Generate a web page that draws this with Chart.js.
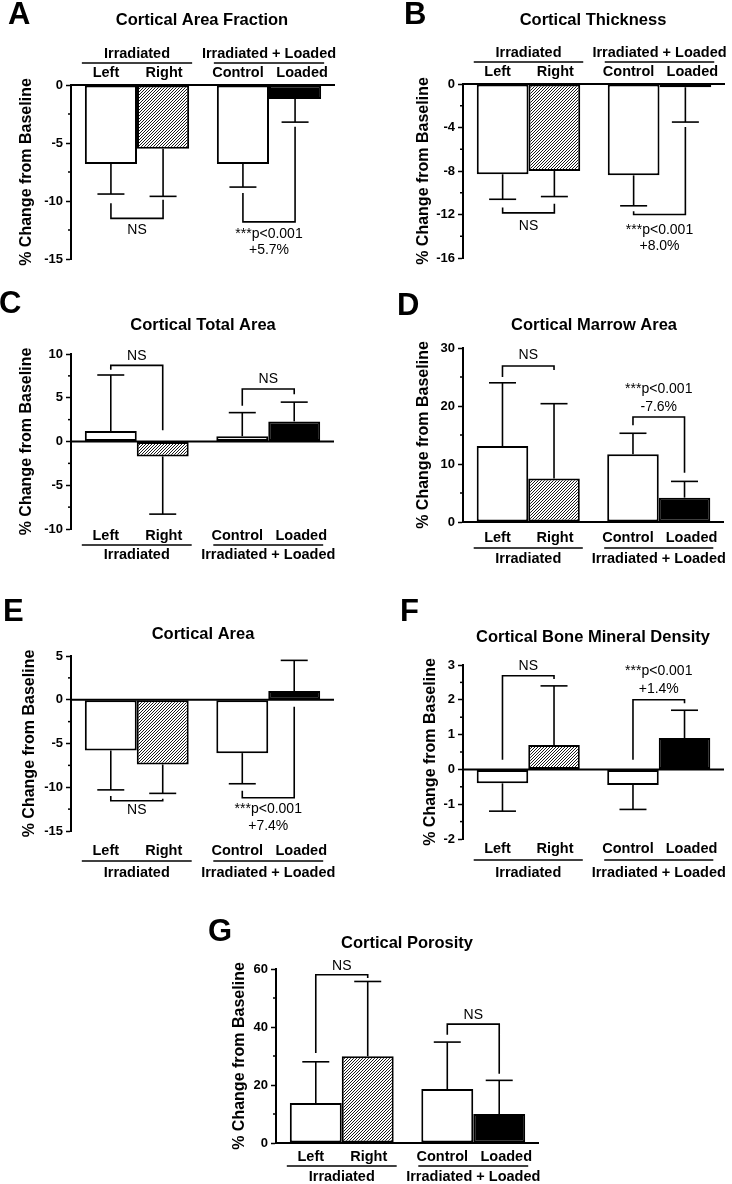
<!DOCTYPE html>
<html>
<head>
<meta charset="utf-8">
<script src="https://cdn.jsdelivr.net/npm/chart.js@4.4.1/dist/chart.umd.min.js"></script>
<style>
  body { margin: 0; background: #fff; width: 732px; height: 1184px; position: relative; overflow: hidden; }
  canvas { position: absolute; }
</style>
</head>
<body>
<script>
const FONT = "'Liberation Sans', Arial, Helvetica, sans-serif";

const categories = ['Left', 'Right', 'Control', 'Loaded'];
const groups = ['Irradiated', 'Irradiated + Loaded'];

// mean % change and one-sided error (SD) per bar: Left, Right, Control, Loaded
const areaFractionMean = [-6.8, -5.5, -6.8, -1.2];
const areaFractionErr = [2.6, 4.1, 2.0, 2.0];
const areaFractionTicks = [-15, -10, -5, 0];

const thicknessMean = [-8.3, -8.0, -8.4, -0.3];
const thicknessErr = [2.3, 2.35, 2.8, 3.2];
const thicknessTicks = [-16, -12, -8, -4, 0];

const totalAreaMean = [1.2, -1.7, 0.6, 2.3];
const totalAreaErr = [6.4, 6.6, 2.7, 2.2];
const totalAreaTicks = [-10, -5, 0, 5, 10];

const marrowMean = [13.1, 7.5, 11.7, 4.2];
const marrowErr = [10.9, 12.9, 3.6, 2.8];
const marrowTicks = [0, 10, 20, 30];

const corticalAreaMean = [-5.8, -7.4, -6.1, 1.0];
const corticalAreaErr = [4.5, 3.3, 3.5, 3.5];
const corticalAreaTicks = [-15, -10, -5, 0, 5];

const bmdMean = [-0.4, 0.7, -0.45, 0.9];
const bmdErr = [0.8, 1.7, 0.7, 0.8];
const bmdTicks = [-2, -1, 0, 1, 2, 3];

const porosityMean = [13.8, 29.9, 18.6, 10.0];
const porosityErr = [14.2, 25.8, 16.2, 11.6];
const porosityTicks = [0, 20, 40, 60];

// layout of each panel on the page
const panels = [
  { letter: 'A', title: 'Cortical Area Fraction', mean: areaFractionMean, err: areaFractionErr, ticks: areaFractionTicks,
    canvas: [0, 0, 366, 290], area: [71, 85, 335, 259], titlePad: 17,
    labelY: [73, 63, 54], letterPos: [8, 15], titlePos: [202, 20],
    brackets: [
      { a: 0, b: 1, y: -11.5, ya: -10.2, yb: -9.9, text: ['NS'], ty: [-12.5] },
      { a: 2, b: 3, y: -11.8, ya: -9.3, yb: -3.6, text: ['***p<0.001', '+5.7%'], ty: [-12.9, -14.2] }
    ] },
  { letter: 'B', title: 'Cortical Thickness', mean: thicknessMean, err: thicknessErr, ticks: thicknessTicks,
    canvas: [366, 0, 366, 290], area: [463, 84, 725, 258], titlePad: 48,
    labelY: [72, 62, 53], letterPos: [404, 15], titlePos: [593, 20],
    brackets: [
      { a: 0, b: 1, y: -11.85, ya: -11.35, yb: -11.0, text: ['NS'], ty: [-13.1] },
      { a: 2, b: 3, y: -12.0, ya: -11.7, yb: -3.95, text: ['***p<0.001', '+8.0%'], ty: [-13.4, -14.95] }
    ] },
  { letter: 'C', title: 'Cortical Total Area', mean: totalAreaMean, err: totalAreaErr, ticks: totalAreaTicks,
    canvas: [0, 290, 366, 290], area: [71, 354, 334, 529], titlePad: 17,
    labelY: [536, 545, 555], letterPos: [-1, 304], titlePos: [203, 325],
    brackets: [
      { a: 0, b: 1, y: 8.7, ya: 8.2, yb: 1.3, text: ['NS'], ty: [9.7] },
      { a: 2, b: 3, y: 6.0, ya: 4.1, yb: 5.4, text: ['NS'], ty: [7.1] }
    ] },
  { letter: 'D', title: 'Cortical Marrow Area', mean: marrowMean, err: marrowErr, ticks: marrowTicks,
    canvas: [366, 290, 366, 290], area: [463, 348, 724, 522], titlePad: 48,
    labelY: [538, 548, 559], letterPos: [397, 306], titlePos: [594, 325],
    brackets: [
      { a: 0, b: 1, y: 26.9, ya: 25.0, yb: 26.2, text: ['NS'], ty: [28.8] },
      { a: 2, b: 3, y: 18.1, ya: 16.7, yb: 8.5, text: ['***p<0.001', '-7.6%'], ty: [22.85, 19.75] }
    ] },
  { letter: 'E', title: 'Cortical Area', mean: corticalAreaMean, err: corticalAreaErr, ticks: corticalAreaTicks,
    canvas: [0, 580, 366, 300], area: [71, 656, 334, 831], titlePad: 20,
    labelY: [851, 861, 873], letterPos: [3, 612], titlePos: [203, 634],
    brackets: [
      { a: 0, b: 1, y: -11.55, ya: -11.0, yb: -11.3, text: ['NS'], ty: [-12.6] },
      { a: 2, b: 3, y: -11.2, ya: -10.4, yb: -0.8, text: ['***p<0.001', '+7.4%'], ty: [-12.55, -14.5] }
    ] },
  { letter: 'F', title: 'Cortical Bone Mineral Density', mean: bmdMean, err: bmdErr, ticks: bmdTicks,
    canvas: [366, 580, 366, 300], area: [463, 665, 724, 839], titlePad: 55,
    labelY: [849, 860, 873], letterPos: [400, 612], titlePos: [593, 637],
    brackets: [
      { a: 0, b: 1, y: 2.69, ya: 0.28, yb: 2.6, text: ['NS'], ty: [2.97] },
      { a: 2, b: 3, y: 2.0, ya: 0.28, yb: 1.9, text: ['***p<0.001', '+1.4%'], ty: [2.81, 2.3] }
    ] },
  { letter: 'G', title: 'Cortical Porosity', mean: porosityMean, err: porosityErr, ticks: porosityTicks,
    canvas: [190, 880, 366, 304], area: [276, 969, 539, 1143], titlePad: 40,
    labelY: [1157, 1166, 1177], letterPos: [208, 932], titlePos: [407, 943],
    brackets: [
      { a: 0, b: 1, y: 58.0, ya: 31.0, yb: 56.9, text: ['NS'], ty: [61.1] },
      { a: 2, b: 3, y: 41.0, ya: 37.3, yb: 23.9, text: ['NS'], ty: [44.25] }
    ] }
];

const labelShift = [-5, 1, -5, 7];

function makeHatch() {
  const c = document.createElement('canvas');
  c.width = 3; c.height = 3;
  const g = c.getContext('2d');
  g.fillStyle = '#fff';
  g.fillRect(0, 0, 3, 3);
  g.strokeStyle = '#000';
  g.lineWidth = 0.9;
  g.beginPath();
  g.moveTo(-1, 4); g.lineTo(4, -1);
  g.moveTo(-1, 1); g.lineTo(1, -1);
  g.moveTo(2, 4); g.lineTo(4, 2);
  g.stroke();
  return g.createPattern(c, 'repeat');
}

function line(ctx, x1, y1, x2, y2) {
  ctx.beginPath();
  ctx.moveTo(x1, y1);
  ctx.lineTo(x2, y2);
  ctx.stroke();
}

function label(ctx, s, x, y, font, align) {
  ctx.font = font;
  ctx.fillStyle = '#000';
  ctx.textAlign = align || 'center';
  ctx.textBaseline = 'middle';
  ctx.fillText(s, x, y);
}

function panelPlugin(p) {
  return {
    id: 'panel' + p.letter,
    afterDatasetsDraw(chart) {
      const ctx = chart.ctx;
      const ys = chart.scales.y;
      const xs = chart.scales.x;
      const ca = chart.chartArea;
      const ox = p.canvas[0], oy = p.canvas[1];
      const bars = [0, 1, 2, 3].map(i => chart.getDatasetMeta(i % 2).data[Math.floor(i / 2)]);

      ctx.save();
      ctx.strokeStyle = '#000';

      // minor ticks
      const step = p.ticks[1] - p.ticks[0];
      ctx.lineWidth = 1.5;
      for (let i = 0; i < p.ticks.length - 1; i++) {
        const y = ys.getPixelForValue(p.ticks[i] + step / 2);
        line(ctx, ca.left - 3, y, ca.left, y);
      }

      // zero line
      ctx.lineWidth = 2;
      const y0 = ys.getPixelForValue(0);
      line(ctx, ca.left, y0, ca.right, y0);

      // error bars (one-sided, away from zero)
      ctx.lineWidth = 1.6;
      bars.forEach((b, i) => {
        const v = p.mean[i];
        const end = v + Math.sign(v) * p.err[i];
        const ya = ys.getPixelForValue(v);
        const yb = ys.getPixelForValue(end);
        line(ctx, b.x, ya, b.x, yb);
        line(ctx, b.x - 13.5, yb, b.x + 13.5, yb);
      });

      // significance brackets
      p.brackets.forEach(br => {
        const xa = bars[br.a].x, xb = bars[br.b].x;
        const yl = ys.getPixelForValue(br.y);
        ctx.lineWidth = 1.6;
        ctx.beginPath();
        ctx.moveTo(xa, ys.getPixelForValue(br.ya));
        ctx.lineTo(xa, yl);
        ctx.lineTo(xb, yl);
        ctx.lineTo(xb, ys.getPixelForValue(br.yb));
        ctx.stroke();
        br.text.forEach((t, k) => {
          label(ctx, t, (xa + xb) / 2, ys.getPixelForValue(br.ty[k]), '14px ' + FONT);
        });
      });

      // category labels, group underlines, group names
      const boldLbl = 'bold 14.5px ' + FONT;
      bars.forEach((b, i) => {
        label(ctx, categories[i], b.x + labelShift[i], p.labelY[0] - oy, boldLbl);
      });
      ctx.lineWidth = 1.5;
      groups.forEach((g, j) => {
        const b1 = bars[j * 2], b2 = bars[j * 2 + 1];
        const yl = p.labelY[1] - oy;
        line(ctx, b1.x - b1.width / 2 - 3, yl, b2.x + b2.width / 2 + 3, yl);
        label(ctx, g, xs.getPixelForValue(j), p.labelY[2] - oy, boldLbl);
      });

      // panel letter and title
      label(ctx, p.letter, p.letterPos[0] - ox, p.letterPos[1] - oy, 'bold 31px ' + FONT, 'left');
      label(ctx, p.title, p.titlePos[0] - ox, p.titlePos[1] - oy, 'bold 16.5px ' + FONT);
      ctx.restore();
    }
  };
}

const hatch = makeHatch();

panels.forEach(p => {
  const [cx, cy, cw, ch] = p.canvas;
  const [al, at, ar, ab] = p.area;
  const canvas = document.createElement('canvas');
  canvas.width = cw;
  canvas.height = ch;
  canvas.style.left = cx + 'px';
  canvas.style.top = cy + 'px';
  canvas.style.width = cw + 'px';
  canvas.style.height = ch + 'px';
  document.body.appendChild(canvas);

  const axisWidth = al - cx;
  new Chart(canvas.getContext('2d'), {
    type: 'bar',
    data: {
      labels: groups,
      datasets: [
        { data: [p.mean[0], p.mean[2]], backgroundColor: ['#fff', '#fff'] },
        { data: [p.mean[1], p.mean[3]], backgroundColor: [hatch, '#000'] }
      ]
    },
    options: {
      responsive: false,
      animation: false,
      devicePixelRatio: 1,
      layout: { padding: { left: 0, top: at - cy, right: cx + cw - ar, bottom: cy + ch - ab } },
      datasets: {
        bar: {
          barPercentage: 1,
          categoryPercentage: 0.79,
          borderColor: '#000',
          borderWidth: 2,
          borderSkipped: false
        }
      },
      plugins: { legend: { display: false }, tooltip: { enabled: false } },
      scales: {
        x: { display: false, offset: true },
        y: {
          min: p.ticks[0],
          max: p.ticks[p.ticks.length - 1],
          afterFit(scale) { scale.width = axisWidth; },
          ticks: {
            stepSize: p.ticks[1] - p.ticks[0],
            color: '#000',
            padding: 3,
            font: { family: FONT, size: 13, weight: 'bold' }
          },
          grid: { drawOnChartArea: false, tickLength: 5, tickColor: '#000', tickWidth: 1.5, color: '#000' },
          border: { color: '#000', width: 2 },
          title: {
            display: true,
            text: '% Change from Baseline',
            color: '#000',
            padding: { top: p.titlePad, bottom: 0 },
            font: { family: FONT, size: 16, weight: 'bold' }
          }
        }
      }
    },
    plugins: [panelPlugin(p)]
  });
});
</script>
</body>
</html>
